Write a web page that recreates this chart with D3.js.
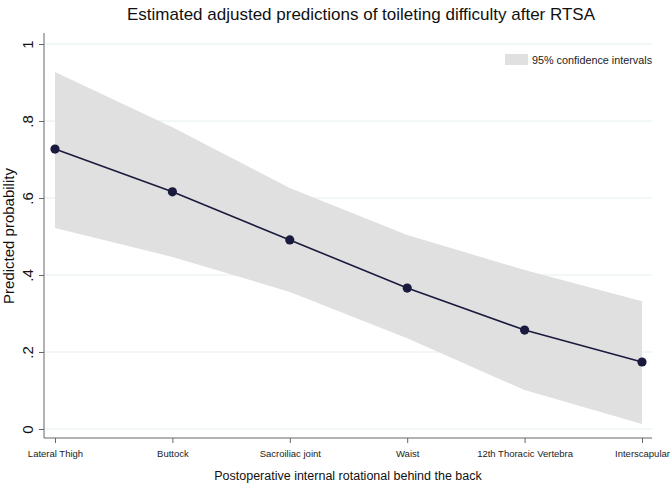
<!DOCTYPE html>
<html><head><meta charset="utf-8">
<script src="https://cdn.jsdelivr.net/npm/d3@7"></script>
<style>body{margin:0;background:#fff}svg{display:block;font-family:"Liberation Sans",Arial,Helvetica,sans-serif}</style>
</head><body>
<svg id="c" width="672" height="486"></svg>
<script>
const categories = ["Lateral Thigh","Buttock","Sacroiliac joint","Waist","12th Thoracic Vertebra","Interscapular"];
const predicted = [0.727,0.616,0.491,0.366,0.257,0.174];
const ciUpper = [0.927,0.784,0.626,0.504,0.413,0.332];
const ciLower = [0.522,0.447,0.356,0.236,0.101,0.013];
const yTicks = [0,0.2,0.4,0.6,0.8,1];
const yTickLabels = ["0",".2",".4",".6",".8","1"];

const data = categories.map((c,i)=>({c, p:predicted[i], u:ciUpper[i], l:ciLower[i]}));
const svg = d3.select("#c");
const pLeft=44, pRight=652, pTop=33, pBottom=438;
const x = d3.scalePoint().domain(categories).range([55,642]);
const y = d3.scaleLinear().domain([0,1]).range([429,44]);

// gridlines
svg.append("g").selectAll("line").data(yTicks).join("line")
  .attr("x1",pLeft).attr("x2",pRight).attr("y1",d=>y(d)).attr("y2",d=>y(d))
  .attr("stroke","#e4eeef").attr("stroke-width",1);

// CI band
svg.append("path").datum(data)
  .attr("d", d3.area().x(d=>x(d.c)).y0(d=>y(d.l)).y1(d=>y(d.u)))
  .attr("fill","#e0e0e0");

// line
svg.append("path").datum(data)
  .attr("d", d3.line().x(d=>x(d.c)).y(d=>y(d.p)))
  .attr("fill","none").attr("stroke","#1a1a3e").attr("stroke-width",1.6);
svg.append("g").selectAll("circle").data(data).join("circle")
  .attr("cx",d=>x(d.c)).attr("cy",d=>y(d.p)).attr("r",4.6).attr("fill","#1a1a3e");

// y axis
const yAxis = svg.append("g").attr("transform",`translate(${pLeft},0)`)
  .call(d3.axisLeft(y).tickValues(yTicks).tickSize(5).tickSizeOuter(0).tickFormat((d,i)=>yTickLabels[i]));
yAxis.select(".domain").remove();
yAxis.append("line").attr("x1",0).attr("x2",0).attr("y1",pTop).attr("y2",pBottom).attr("stroke","#666");
yAxis.selectAll(".tick line").attr("stroke","#666");
yAxis.selectAll(".tick text").attr("fill","#111").style("font-size","15px")
  .attr("x",0).attr("y",0).attr("dy","0")
  .attr("text-anchor","middle")
  .attr("transform","translate(-11,0) rotate(-90)");

// x axis
const xAxis = svg.append("g").attr("transform",`translate(0,${pBottom})`)
  .call(d3.axisBottom(x).tickSize(5).tickSizeOuter(0));
xAxis.select(".domain").remove();
xAxis.append("line").attr("x1",pLeft).attr("x2",pRight).attr("y1",0).attr("y2",0).attr("stroke","#666");
xAxis.selectAll(".tick line").attr("stroke","#666");
xAxis.selectAll(".tick text").attr("fill","#222").style("font-size","9.5px").attr("y",12);

// titles
svg.append("text").attr("x",361).attr("y",20).attr("text-anchor","middle")
  .style("font-size","17px").attr("fill","#111").text("Estimated adjusted predictions of toileting difficulty after RTSA");
svg.append("text").attr("x",348).attr("y",480).attr("text-anchor","middle")
  .style("font-size","12.5px").attr("fill","#111").text("Postoperative internal rotational behind the back");
svg.append("text").attr("transform","translate(14,236) rotate(-90)").attr("text-anchor","middle")
  .style("font-size","15px").attr("fill","#111").text("Predicted probability");

// legend
svg.append("rect").attr("x",505).attr("y",54).attr("width",23).attr("height",11).attr("fill","#e0e0e0");
svg.append("text").attr("x",532).attr("y",63.5).style("font-size","10.8px").attr("fill","#222").text("95% confidence intervals");
</script>
</body></html>
